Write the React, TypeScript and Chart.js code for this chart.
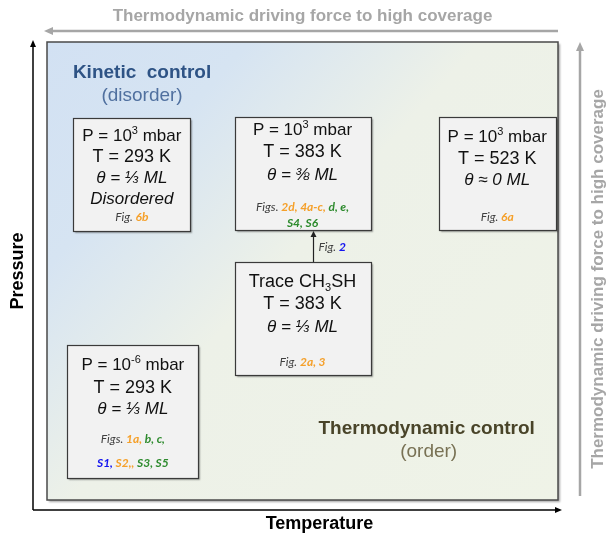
import React, { useEffect, useRef } from 'react';
import { Chart, registerables } from 'chart.js';

Chart.register(...registerables);

// ---- Diagram content -------------------------------------------------------
// Conceptual axes (diagram units 0–100 on both axes)
const xAxisTitle = 'Temperature';
const yAxisTitle = 'Pressure';
const drivingForceLabel = 'Thermodynamic driving force to high coverage';

// Regime labels
const regimeTitles = ['Kinetic  control', 'Thermodynamic control'];
const regimeSubtitles = ['(disorder)', '(order)'];
const regimeX = [18.6, 74.3];
const regimeY = [93.2, 15.5];

// Experimental conditions (box centres in diagram units)
const conditionIds = ['uhv293', 'hp293', 'hp383', 'trace383', 'hp523'];
const conditionX = [16.8, 16.6, 50.0, 50.0, 88.1];
const conditionY = [19.3, 71.1, 71.3, 39.6, 71.3];

// Text lines: ^{..} superscript, _{..} subscript, leading * = italic
const conditionLines: string[][] = [
  ['P = 10^{-6} mbar', 'T = 293 K', '*θ = ⅓ ML'],
  ['P = 10^{3} mbar', 'T = 293 K', '*θ = ⅓ ML', '*Disordered'],
  ['P = 10^{3} mbar', 'T = 383 K', '*θ = ⅜ ML'],
  ['Trace CH_{3}SH', 'T = 383 K', '*θ = ⅓ ML'],
  ['P = 10^{3} mbar', 'T = 523 K', '*θ ≈ 0 ML'],
];

// Figure references: [text, colour key]; k = plain, o = orange, g = green, b = blue
const conditionFigs: [string, string][][][] = [
  [
    [['Figs. ', 'k'], ['1a, ', 'o'], ['b, c,', 'g']],
    [['S1, ', 'b'], ['S2,, ', 'o'], ['S3, S5', 'g']],
  ],
  [[['Fig. ', 'k'], ['6b', 'o']]],
  [
    [['Figs. ', 'k'], ['2d, 4a-c, ', 'o'], ['d, e,', 'g']],
    [['S4, S6', 'g']],
  ],
  [[['Fig. ', 'k'], ['2a, 3', 'o']]],
  [[['Fig. ', 'k'], ['6a', 'o']]],
];

// Transition arrow between conditions
const transitionFrom = 'trace383';
const transitionTo = 'hp383';
const transitionFig: [string, string][] = [['Fig. ', 'k'], ['2', 'b']];

// ---- Styling / layout --------------------------------------------------------
const figColors: Record<string, string> = {
  k: '#404040',
  o: '#F5A02A',
  g: '#2E8B2E',
  b: '#1414F0',
};
const boxSize: Record<string, [number, number]> = {
  uhv293: [131, 133],
  hp293: [117, 113],
  hp383: [136, 113],
  trace383: [136, 113],
  hp523: [117, 113],
};
// offsets from box top for main lines and figure lines
const mainOffsets: Record<string, number[]> = {
  uhv293: [20, 43, 64],
  hp293: [18, 39, 60, 81],
  hp383: [13, 35, 58],
  trace383: [20, 42, 65],
  hp523: [20, 42, 63],
};
const figOffsets: Record<string, number[]> = {
  uhv293: [94, 118],
  hp293: [99],
  hp383: [90, 106],
  trace383: [100],
  hp523: [100],
};

const SANS = '"Liberation Sans", Arial, sans-serif';
const FIGFONT = 'Lato, "Open Sans", sans-serif';
const GRAY = '#A6A6A6';

type Seg = { t: string; v: 'n' | 'sup' | 'sub' };

function parseMarkup(s: string): Seg[] {
  const out: Seg[] = [];
  const re = /([\^_])\{([^}]*)\}/g;
  let last = 0;
  let m: RegExpExecArray | null;
  while ((m = re.exec(s))) {
    if (m.index > last) out.push({ t: s.slice(last, m.index), v: 'n' });
    out.push({ t: m[2], v: m[1] === '^' ? 'sup' : 'sub' });
    last = re.lastIndex;
  }
  if (last < s.length) out.push({ t: s.slice(last), v: 'n' });
  return out;
}

function drawMarkupLine(ctx: CanvasRenderingContext2D, raw: string, cx: number, y: number, size: number) {
  const italic = raw.startsWith('*');
  const segs = parseMarkup(italic ? raw.slice(1) : raw);
  const fontFor = (s: Seg) => `${italic ? 'italic ' : ''}${s.v === 'n' ? size : Math.round(size * 0.62)}px ${SANS}`;
  let total = 0;
  const widths = segs.map((s) => {
    ctx.font = fontFor(s);
    const w = ctx.measureText(s.t).width;
    total += w;
    return w;
  });
  let x = cx - total / 2;
  ctx.textAlign = 'left';
  ctx.textBaseline = 'middle';
  ctx.fillStyle = '#111111';
  segs.forEach((s, i) => {
    ctx.font = fontFor(s);
    const dy = s.v === 'sup' ? -size * 0.3 : s.v === 'sub' ? size * 0.32 : 0;
    ctx.fillText(s.t, x, y + dy);
    x += widths[i];
  });
}

function drawFigLine(ctx: CanvasRenderingContext2D, segs: [string, string][], x0: number, y: number, align: 'center' | 'left') {
  const fontFor = (k: string) => (k === 'k' ? `italic 12px ${FIGFONT}` : `italic bold 12px ${FIGFONT}`);
  let total = 0;
  const widths = segs.map(([t, k]) => {
    ctx.font = fontFor(k);
    const w = ctx.measureText(t).width;
    total += w;
    return w;
  });
  let x = align === 'center' ? x0 - total / 2 : x0;
  ctx.textAlign = 'left';
  ctx.textBaseline = 'middle';
  segs.forEach(([t, k], i) => {
    ctx.font = fontFor(k);
    ctx.fillStyle = figColors[k];
    ctx.fillText(t, x, y);
    x += widths[i];
  });
}

function arrow(
  ctx: CanvasRenderingContext2D,
  x1: number, y1: number, x2: number, y2: number,
  color: string, lw: number, headLen: number, headHalf: number,
) {
  const ang = Math.atan2(y2 - y1, x2 - x1);
  const bx = x2 - Math.cos(ang) * headLen;
  const by = y2 - Math.sin(ang) * headLen;
  ctx.save();
  ctx.strokeStyle = color;
  ctx.fillStyle = color;
  ctx.lineWidth = lw;
  ctx.beginPath();
  ctx.moveTo(x1, y1);
  ctx.lineTo(bx, by);
  ctx.stroke();
  ctx.beginPath();
  ctx.moveTo(x2, y2);
  ctx.lineTo(bx + Math.sin(ang) * headHalf, by - Math.cos(ang) * headHalf);
  ctx.lineTo(bx - Math.sin(ang) * headHalf, by + Math.cos(ang) * headHalf);
  ctx.closePath();
  ctx.fill();
  ctx.restore();
}

const diagramPlugin = {
  id: 'diagram',
  afterDraw(chart: any) {
    const ctx: CanvasRenderingContext2D = chart.ctx;
    const { left, right, top, bottom } = chart.chartArea;
    const xs = chart.scales.x;
    const ys = chart.scales.y;
    ctx.save();

    // background panel
    const grad = ctx.createLinearGradient(left, top, right, bottom);
    grad.addColorStop(0, '#D2E1F3');
    grad.addColorStop(0.22, '#D6E4F2');
    grad.addColorStop(0.47, '#EDF1E8');
    grad.addColorStop(1, '#EFF3E7');
    ctx.save();
    ctx.shadowColor = 'rgba(0,0,0,0.35)';
    ctx.shadowOffsetX = 1.5;
    ctx.shadowOffsetY = 1.5;
    ctx.shadowBlur = 2;
    ctx.fillStyle = grad;
    ctx.fillRect(left, top, right - left, bottom - top);
    ctx.restore();
    ctx.strokeStyle = '#4A4A4A';
    ctx.lineWidth = 1.5;
    ctx.strokeRect(left, top, right - left, bottom - top);

    // axes arrows (black)
    const axX = left - 14;
    const axY = bottom + 10;
    arrow(ctx, axX, axY, axX, top - 2, '#000', 1.5, 7, 3);
    arrow(ctx, axX, axY, right + 4, axY, '#000', 1.5, 7, 3);

    // axis titles
    ctx.fillStyle = '#000';
    ctx.font = `bold 18px ${SANS}`;
    ctx.textAlign = 'center';
    ctx.textBaseline = 'middle';
    ctx.fillText(xAxisTitle, (left + right) / 2 + 17, bottom + 24);
    ctx.save();
    ctx.translate(left - 29, (top + bottom) / 2);
    ctx.rotate(-Math.PI / 2);
    ctx.fillText(yAxisTitle, 0, 0);
    ctx.restore();

    // driving-force arrows (gray)
    arrow(ctx, right, top - 11, left - 3, top - 11, GRAY, 2.5, 9, 4);
    arrow(ctx, right + 22, bottom - 4, right + 22, top, GRAY, 2.5, 9, 4);
    ctx.fillStyle = GRAY;
    ctx.font = `bold 17px ${SANS}`;
    ctx.textAlign = 'center';
    ctx.textBaseline = 'middle';
    ctx.fillText(drivingForceLabel, (left + right) / 2, 16);
    ctx.save();
    ctx.translate(right + 40, (top + bottom) / 2 + 8);
    ctx.rotate(-Math.PI / 2);
    ctx.fillText(drivingForceLabel, 0, 0);
    ctx.restore();

    // regime labels
    const titleColors = ['#2E5385', '#494429'];
    const subColors = ['#50709F', '#787154'];
    regimeTitles.forEach((t, i) => {
      const cx = xs.getPixelForValue(regimeX[i]);
      const cy = ys.getPixelForValue(regimeY[i]);
      ctx.textAlign = 'center';
      ctx.textBaseline = 'middle';
      ctx.font = `bold 19px ${SANS}`;
      ctx.fillStyle = titleColors[i];
      ctx.fillText(t, cx, cy);
      ctx.font = `19px ${SANS}`;
      ctx.fillStyle = subColors[i];
      ctx.fillText(regimeSubtitles[i], cx + (i === 1 ? 2 : 0), cy + 23);
    });

    // transition arrow
    const fi = conditionIds.indexOf(transitionFrom);
    const ti = conditionIds.indexOf(transitionTo);
    const fx = xs.getPixelForValue(conditionX[fi]) + 10;
    const fTop = ys.getPixelForValue(conditionY[fi]) - boxSize[transitionFrom][1] / 2;
    const tBot = ys.getPixelForValue(conditionY[ti]) + boxSize[transitionTo][1] / 2;
    arrow(ctx, Math.round(fx) + 0.5, fTop, Math.round(fx) + 0.5, tBot + 1, '#222', 1.2, 6, 3);
    drawFigLine(ctx, transitionFig, fx + 6, (fTop + tBot) / 2 + 1, 'left');

    // condition boxes
    conditionIds.forEach((id, i) => {
      const cx = xs.getPixelForValue(conditionX[i]);
      const cy = ys.getPixelForValue(conditionY[i]);
      const [w, h] = boxSize[id];
      const bx = Math.round(cx - w / 2) + 0.5;
      const by = Math.round(cy - h / 2) + 0.5;
      ctx.save();
      ctx.shadowColor = 'rgba(0,0,0,0.35)';
      ctx.shadowOffsetX = 1.5;
      ctx.shadowOffsetY = 1.5;
      ctx.shadowBlur = 1.5;
      ctx.fillStyle = '#F2F2F2';
      ctx.fillRect(bx, by, w, h);
      ctx.restore();
      ctx.strokeStyle = '#3A3A3A';
      ctx.lineWidth = 1.2;
      ctx.strokeRect(bx, by, w, h);

      conditionLines[i].forEach((line, j) => {
        const size = line.startsWith('T') ? 18 : 17;
        drawMarkupLine(ctx, line, cx, by + mainOffsets[id][j], size);
      });
      conditionFigs[i].forEach((segs, j) => {
        drawFigLine(ctx, segs, cx, by + figOffsets[id][j], 'center');
      });
    });

    ctx.restore();
  },
};

export default function App() {
  const ref = useRef<HTMLCanvasElement | null>(null);
  useEffect(() => {
    if (!ref.current) return;
    const chart = new Chart(ref.current, {
      type: 'scatter',
      data: {
        datasets: [
          {
            label: 'conditions',
            data: conditionX.map((x, i) => ({ x, y: conditionY[i] })),
            pointRadius: 0,
            pointHoverRadius: 0,
          },
        ],
      },
      options: {
        responsive: false,
        maintainAspectRatio: false,
        animation: false,
        events: [],
        layout: { padding: { left: 47, top: 42, right: 49, bottom: 35 } },
        scales: {
          x: { type: 'linear', min: 0, max: 100, display: false },
          y: { type: 'linear', min: 0, max: 100, display: false },
        },
        plugins: { legend: { display: false }, tooltip: { enabled: false } },
      },
      plugins: [diagramPlugin],
    });
    return () => chart.destroy();
  }, []);
  return (
    <div style={{ position: 'fixed', left: 0, top: 0, width: 607, height: 535, background: '#fff' }}>
      <canvas ref={ref} width={607} height={535} style={{ display: 'block', width: 607, height: 535 }} />
    </div>
  );
}
